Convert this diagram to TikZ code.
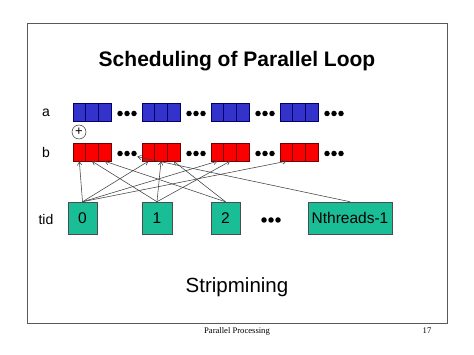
\documentclass[tikz,border=0pt]{standalone}
\usepackage{fontspec}
\setmainfont{Liberation Sans}
\newfontfamily\timesf{Liberation Serif}
\usetikzlibrary{arrows.meta}
\definecolor{cellblue}{RGB}{51,51,204}
\definecolor{cellred}{RGB}{250,0,0}
\definecolor{tealbox}{RGB}{26,190,150}
\begin{document}
\begin{tikzpicture}[x=1pt,y=-1pt,
  cellA/.style={draw=blue!40!black, fill=cellblue, minimum width=12.67pt, minimum height=18pt, inner sep=0pt, line width=0.5pt},
  cellB/.style={draw=red!45!black, fill=cellred, minimum width=12.67pt, minimum height=18pt, inner sep=0pt, line width=0.5pt},
  tidbox/.style={draw=black!70, fill=tealbox, minimum height=32pt, inner sep=0pt, line width=0.5pt, font=\fontsize{15.5}{18}\selectfont},
  lbl/.style={font=\fontsize{14}{16}\selectfont, inner sep=0pt},
  conn/.style={draw=black!75, line width=0.55pt, -{Straight Barb[length=3.5pt,width=4.5pt]}},
  dotsrow/.style={minimum width=20pt, minimum height=6pt, inner sep=0pt,
    path picture={
      \fill ([xshift=-7pt]path picture bounding box.center) circle (2.75pt);
      \fill (path picture bounding box.center) circle (2.75pt);
      \fill ([xshift=7pt]path picture bounding box.center) circle (2.75pt);
    }},
  frame/.style={draw=black!65, line width=0.9pt}
]
\useasboundingbox (0,0) rectangle (474,355);
\draw[frame] (27,23) rectangle (447,323);

\node[font=\bfseries\fontsize{21}{24}\selectfont] (title) at (237,61) {Scheduling of Parallel Loop};

\node[lbl] (la) at (46,113) {a};
\node[lbl] (lb) at (46,152) {b};
\node[lbl] (ltid) at (46,219) {tid};

% blocks
\foreach \i in {1,...,4}{
  \foreach \j in {1,2,3}{
    \pgfmathsetmacro{\cx}{73+69*(\i-1)+12.67*(\j-0.5)}
    \node[cellA] (a\i c\j) at (\cx,112) {};
    \node[cellB] (b\i c\j) at (\cx,152) {};
  }
}

% dots
\node[dotsrow] (da1) at (127,113.5) {};
\node[dotsrow] (da2) at (196,113.5) {};
\node[dotsrow] (da3) at (265,113.5) {};
\node[dotsrow] (da4) at (334,113.5) {};
\node[dotsrow] (db1) at (127,153.5) {};
\node[dotsrow] (db2) at (196,153.5) {};
\node[dotsrow] (db3) at (265,153.5) {};
\node[dotsrow] (db4) at (334,153.5) {};
\node[dotsrow] (dt) at (271,220) {};

% plus
\node[draw=black!80, circle, minimum size=14pt, inner sep=0pt, line width=0.5pt, font=\fontsize{13}{14}\selectfont] (plus) at (79,132) {+};

% tid boxes
\node[tidbox, minimum width=29pt] (t0) at (82.5,218) {0};
\node[tidbox, minimum width=30pt] (t1) at (157,218) {1};
\node[tidbox, minimum width=29pt] (t2) at (225.5,218) {2};
\node[tidbox, minimum width=84pt] (tn) at (350,218) {Nthreads-1};

% connectors
\draw[conn] (t0.north) -- (b1c1.south);
\draw[conn] (t0.north) -- (b2c1.south);
\draw[conn] (t0.north) -- (b3c1.south);
\draw[conn] (t0.north) -- (b4c1.south);
\draw[conn] (t1.north) -- (b1c2.south);
\draw[conn] (t1.north) -- (b2c2.south);
\draw[conn] (t1.north) -- (b3c2.south);
\draw[conn] (t2.north) -- (b1c3.south);
\draw[conn] (t2.north) -- (b2c3.south);
\draw[conn] (tn.north) -- (db1.south east);

\node[font=\fontsize{20.5}{24}\selectfont] (strip) at (237,287) {Stripmining};
\node[font=\timesf\fontsize{8.6}{10}\selectfont] (foot) at (237,331) {Parallel Processing};
\node[font=\timesf\fontsize{8.6}{10}\selectfont] (page) at (427,331) {17};
\end{tikzpicture}
\end{document}
